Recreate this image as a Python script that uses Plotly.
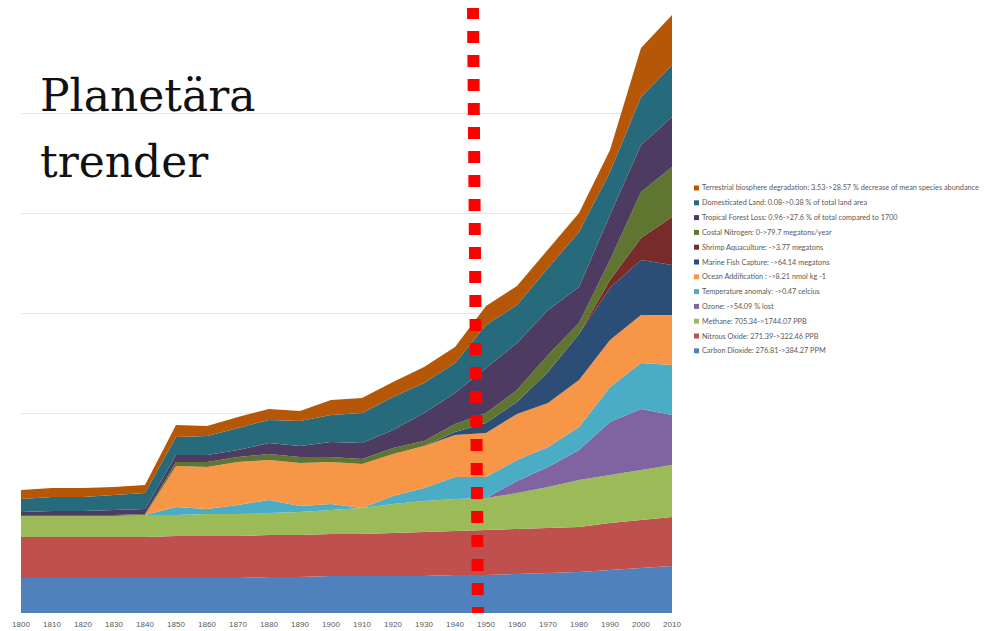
import plotly.graph_objects as go

years = [1800, 1810, 1820, 1830, 1840, 1850, 1860, 1870, 1880, 1890, 1900,
         1910, 1920, 1930, 1940, 1950, 1960, 1970, 1980, 1990, 2000, 2010]

co2 = [35, 35, 35, 35, 35, 35, 35, 35, 36, 36, 37, 37, 37, 37, 38, 38, 39, 40, 41, 43, 45, 47]
n2o = [41, 41, 41, 41, 41, 42, 42, 42, 42, 42, 42, 42, 43, 44, 44, 45, 45, 45, 45, 47, 48, 49]
methane = [21, 21, 21, 21, 22, 21, 22, 22, 22, 23, 24, 26, 29, 31, 32, 32, 36, 41, 47, 48, 50, 52]
ozone = [0, 0, 0, 0, 0, 0, 0, 0, 0, 0, 0, 0, 0, 0, 0, 0, 12, 20, 30, 53, 61, 50]
temperature = [0, 0, 0, 0, 0, 8, 5, 9, 13, 6, 6, 0, 8, 13, 22, 21, 21, 20, 23, 35, 46, 50]
ocean_acid = [0, 0, 0, 0, 0, 41, 42, 43, 40, 43, 42, 44, 42, 42, 42, 44, 46, 44, 47, 47, 48, 50]
marine_fish = [0, 0, 0, 0, 0, 0, 0, 0, 0, 0, 0, 0, 0, 0, 3, 10, 12, 31, 46, 52, 55, 50]
shrimp = [0, 0, 0, 0, 0, 0, 0, 0, 0, 0, 0, 0, 0, 0, 0, 0, 0, 0, 0, 8, 22, 48]
coastal_n = [1, 1, 1, 1, 1, 4, 5, 5, 6, 6, 5, 5, 6, 5, 8, 10, 12, 17, 11, 20, 46, 50]
tropical = [3, 4, 4, 5, 5, 7, 7, 7, 11, 11, 15, 16, 18, 28, 31, 45, 47, 45, 36, 45, 47, 50]
domesticated = [13, 14, 14, 15, 16, 18, 19, 22, 23, 25, 27, 30, 33, 30, 30, 43, 38, 42, 55, 43, 48, 52]
terrestrial = [9, 9, 9, 8, 8, 12, 10, 11, 11, 10, 15, 15, 15, 16, 16, 19, 19, 18, 19, 22, 49, 50]

names = [
    "Carbon Dioxide: 276.81->384.27 PPM",
    "Nitrous Oxide: 271.39->322.46 PPB",
    "Methane: 705.34->1744.07 PPB",
    "Ozone: ->54.09 % lost",
    "Temperature anomaly: ->0.47 celcius",
    "Ocean Addification : ->8.21 nmol kg -1",
    "Marine Fish Capture: ->64.14 megatons",
    "Shrimp Aquaculture: ->3.77 megatons",
    "Costal Nitrogen: 0->79.7 megatons/year",
    "Tropical Forest Loss: 0.96->27.6 % of total compared to 1700",
    "Domesticated Land: 0.08->0.38 % of total land area",
    "Terrestrial biosphere degradation: 3.53->28.57 % decrease of mean species abundance",
]
series = [co2, n2o, methane, ozone, temperature, ocean_acid, marine_fish,
          shrimp, coastal_n, tropical, domesticated, terrestrial]
colors = ["#4F81BD", "#C0504D", "#9BBB59", "#8064A2", "#4BACC6", "#F79646",
          "#2C4D75", "#772C2A", "#5F7530", "#4D3B62", "#276A7C", "#B65708"]

marker_year = [1945.8, 1947.4]

fig = go.Figure()
for name, vals, col in zip(names, series, colors):
    fig.add_trace(go.Scatter(
        x=years, y=vals, name=name, mode="lines", stackgroup="one",
        line=dict(width=0, color=col), fillcolor=col, showlegend=False,
        hoverinfo="skip"))

# page offset (body margin) compensation
OFF = 8
# plot area in page px: x 21..672, y 13..613
L, R, T, B = 21 - OFF, 672 - OFF, 13 - OFF, 613 - OFF
W, H = 992 - OFF, 631 - OFF

def px_to_paper_x(px):
    return (px - OFF - L) / (R - L)

def py_to_paper_y(py):
    return (B - (py - OFF)) / (B - T)

annotations = []
shapes = []
legend_top = 188
legend_step = 14.8
for i, (name, col) in enumerate(zip(reversed(names), reversed(colors))):
    yc = legend_top + i * legend_step
    shapes.append(dict(type="rect", xref="paper", yref="paper",
                       x0=px_to_paper_x(694), x1=px_to_paper_x(699),
                       y0=py_to_paper_y(yc + 2.5), y1=py_to_paper_y(yc - 2.5),
                       fillcolor=col, line=dict(width=0)))
    annotations.append(dict(text=name, xref="paper", yref="paper",
                            x=px_to_paper_x(700), y=py_to_paper_y(yc),
                            xanchor="left", yanchor="middle", showarrow=False,
                            font=dict(family="Lato, Liberation Sans, sans-serif",
                                      size=7.3, color="#595959")))

annotations.append(dict(text="Planetära", xref="paper", yref="paper",
                        x=px_to_paper_x(38), y=py_to_paper_y(95),
                        xanchor="left", yanchor="middle", showarrow=False,
                        font=dict(family="DejaVu Serif, serif", size=44, color="#111111")))
annotations.append(dict(text="trender", xref="paper", yref="paper",
                        x=px_to_paper_x(38), y=py_to_paper_y(161),
                        xanchor="left", yanchor="middle", showarrow=False,
                        font=dict(family="DejaVu Serif, serif", size=44, color="#111111")))

shapes.append(dict(type="line", xref="x", yref="paper",
                   x0=marker_year[0], x1=marker_year[1],
                   y0=py_to_paper_y(7), y1=0,
                   line=dict(color="#FF0000", width=12, dash="12px,12px"),
                   layer="above"))

fig.update_layout(
    width=W, height=H,
    margin=dict(l=L, r=W - R, t=T, b=H - B, autoexpand=False),
    paper_bgcolor="white", plot_bgcolor="white",
    showlegend=False,
    annotations=annotations, shapes=shapes,
    xaxis=dict(range=[1800, 2010], tickmode="array", tickvals=years,
               ticktext=[str(y) for y in years], showgrid=False,
               zeroline=False, showline=False, ticks="", ticklabelstandoff=5,
               automargin=False,
               tickfont=dict(family="Liberation Sans, sans-serif", size=8, color="#595959")),
    yaxis=dict(range=[0, 600], dtick=100, showgrid=True, gridcolor="#E6E6E6",
               gridwidth=1, zeroline=False, showticklabels=False, showline=False,
               automargin=False),
)

fig.write_html("out.html")
